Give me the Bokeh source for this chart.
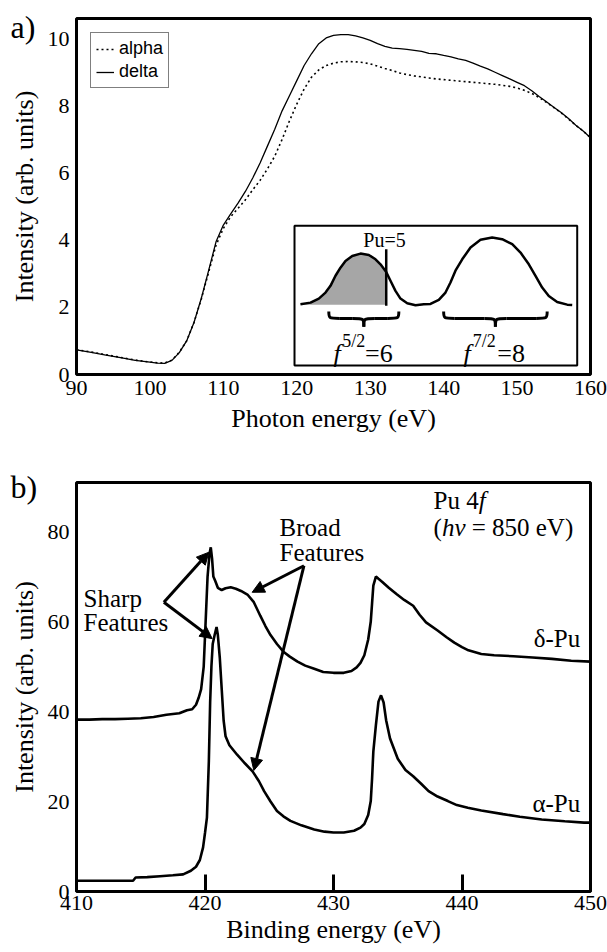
from bokeh.plotting import figure
from bokeh.layouts import column
from bokeh.models import Range1d, Legend, LegendItem, Label, Arrow, NormalHead, FixedTicker, Title
from bokeh.embed import file_html
from bokeh.resources import INLINE

SERIF = "Liberation Serif"
SANS = "Liberation Sans"

# ---------------- panel a) data ----------------
photon_energy = [90, 92, 94, 96, 98, 100, 101, 102, 103, 104, 105, 106, 107, 108, 109, 110,
                 111, 112, 113, 114, 115, 116, 117, 118, 119, 120, 121, 122, 123, 124, 125,
                 126, 127, 128, 129, 130, 131, 132, 133, 134, 135, 136, 137, 138, 139, 140,
                 141, 142, 143, 144, 145, 146, 147, 148, 149, 150, 151, 152, 153, 154, 155,
                 156, 157, 158, 159, 160]
delta_xas = [0.73, 0.66, 0.58, 0.50, 0.42, 0.37, 0.34, 0.33, 0.42, 0.65, 1.00, 1.55, 2.27, 3.10,
             3.95, 4.45, 4.78, 5.10, 5.45, 5.85, 6.30, 6.80, 7.30, 7.85, 8.30, 8.75, 9.20, 9.55,
             9.85, 10.02, 10.10, 10.12, 10.12, 10.08, 10.02, 9.95, 9.85, 9.77, 9.72, 9.70, 9.68,
             9.65, 9.62, 9.56, 9.55, 9.50, 9.46, 9.40, 9.35, 9.27, 9.18, 9.10, 9.00, 8.90, 8.80,
             8.70, 8.60, 8.45, 8.28, 8.12, 7.96, 7.80, 7.62, 7.42, 7.25, 7.05]
alpha_xas = [0.74, 0.67, 0.59, 0.51, 0.43, 0.37, 0.35, 0.34, 0.43, 0.66, 1.00, 1.55, 2.25, 3.05,
             3.85, 4.35, 4.70, 4.95, 5.20, 5.50, 5.78, 6.12, 6.50, 7.00, 7.55, 8.05, 8.50, 8.85,
             9.07, 9.20, 9.27, 9.31, 9.32, 9.31, 9.29, 9.25, 9.18, 9.11, 9.05, 8.98, 8.93, 8.89,
             8.86, 8.83, 8.80, 8.78, 8.76, 8.74, 8.72, 8.70, 8.68, 8.66, 8.64, 8.61, 8.58, 8.53,
             8.46, 8.37, 8.25, 8.10, 7.95, 7.79, 7.61, 7.42, 7.25, 7.05]
series_a_labels = ["alpha", "delta"]
xticks_a = [90, 100, 110, 120, 130, 140, 150, 160]
yticks_a = [0, 2, 4, 6, 8, 10]

# inset schematic (5f density of states, drawn in panel-a data units)
inset_x = [120.50, 121.87, 123.00, 123.91, 124.59, 125.27, 125.95, 126.63, 127.55, 128.68,
           129.81, 130.72, 131.40, 132.18, 132.76, 133.44, 134.12, 135.04, 136.17, 137.30,
           138.21, 139.34, 140.25, 140.93, 141.61, 142.53, 143.66, 145.02, 146.61, 147.97,
           149.34, 150.47, 151.60, 152.51, 153.42, 154.32, 155.46, 156.83, 157.51]
inset_y = [2.09, 2.14, 2.26, 2.44, 2.64, 2.94, 3.18, 3.38, 3.53, 3.60, 3.56, 3.43, 3.28, 3.05,
           2.79, 2.49, 2.26, 2.12, 2.06, 2.09, 2.10, 2.22, 2.44, 2.74, 3.09, 3.43, 3.78, 4.01,
           4.08, 4.03, 3.88, 3.63, 3.28, 2.94, 2.59, 2.34, 2.16, 2.08, 2.07]
inset_baseline = 2.08
fermi_level_x = 132.18   # "Pu=5" filling line
fermi_level_top = 3.73
brace_left = [124.36, 140.0]
brace_right = [133.9, 154.1]
brace_texts_main = ["=6", "=8"]
brace_texts_sup = ["5/2", "7/2"]

# ---------------- panel b) data ----------------
delta_be = [410.0, 411.0, 412.0, 413.0, 414.0, 415.0, 416.0, 417.0, 418.0, 418.6, 419.0, 419.3,
            419.5, 419.7, 419.9, 420.05, 420.2, 420.35, 420.45, 420.55, 420.65, 420.8, 421.0,
            421.3, 421.6, 422.0, 422.4, 422.8, 423.3, 423.8, 424.3, 424.7, 425.1, 425.6, 426.1,
            426.6, 427.2, 427.8, 428.5, 429.2, 430.0, 430.8, 431.4, 431.8, 432.1, 432.4, 432.7,
            432.9, 433.0, 433.1, 433.3, 433.5, 433.8, 434.3, 434.9, 435.5, 436.2, 436.7, 437.2,
            438.1, 438.8, 439.4, 440.0, 440.5, 441.5, 442.5, 444.0, 445.5, 447.0, 448.5, 450.0]
delta_int = [38.2, 38.2, 38.3, 38.3, 38.4, 38.5, 38.8, 39.3, 39.6, 40.3, 40.5, 41.5, 43.0, 45.0,
             50.0, 60.0, 70.0, 75.0, 76.5, 74.0, 70.0, 69.0, 67.5, 67.0, 67.4, 67.6, 67.3, 66.8,
             66.0, 64.3, 61.3, 59.0, 57.0, 55.0, 53.3, 52.2, 51.1, 50.2, 49.5, 48.8, 48.6, 48.6,
             49.0, 49.8, 50.8, 52.5, 56.0, 60.0, 64.0, 68.0, 70.0, 69.5, 68.8, 67.5, 66.1, 64.8,
             63.5, 61.5, 59.8, 58.0, 56.5, 55.3, 54.3, 53.6, 52.8, 52.5, 52.3, 52.0, 51.7, 51.3,
             51.1]
alpha_be = [410.0, 411.0, 412.0, 413.0, 414.4, 414.6, 415.5, 416.5, 417.5, 418.3, 418.9, 419.3,
            419.6, 419.85, 420.0, 420.15, 420.3, 420.4, 420.5, 420.6, 420.75, 420.9, 421.0,
            421.15, 421.3, 421.45, 421.6, 421.9, 422.5, 423.1, 423.7, 424.2, 424.6, 425.1,
            425.6, 426.1, 426.65, 427.5, 428.5, 429.3, 430.0, 430.8, 431.6, 432.1, 432.4, 432.7,
            432.9, 433.0, 433.1, 433.3, 433.5, 433.7, 433.9, 434.1, 434.4, 435.0, 435.6, 436.2,
            436.8, 437.4, 438.1, 438.9, 439.6, 440.45, 441.5, 443.2, 444.5, 446.2, 448.0,
            449.5, 450.0]
alpha_int = [2.4, 2.4, 2.4, 2.4, 2.4, 3.1, 3.2, 3.4, 3.6, 3.8, 4.6, 5.5, 7.0, 9.8, 13.0, 16.4,
             29.0, 42.0, 50.0, 55.0, 57.0, 58.8, 57.0, 52.0, 45.0, 38.0, 34.5, 32.5, 30.4, 28.5,
             26.7, 24.5, 22.3, 20.0, 17.9, 16.7, 15.7, 14.7, 13.8, 13.3, 13.1, 13.1, 13.5, 14.2,
             15.0, 17.0, 20.1, 25.0, 31.1, 37.0, 42.2, 43.6, 42.0, 38.0, 34.0, 29.5, 27.0, 25.6,
             24.0, 22.3, 21.1, 20.1, 19.2, 18.6, 18.0, 17.2, 16.6, 16.0, 15.6, 15.3, 15.3]
xticks_b = [410, 420, 430, 440, 450]
yticks_b = [0, 20, 40, 60, 80]

# annotation arrows (start -> end, data units of panel b)
arrow_x0 = [416.8, 416.8, 427.7, 427.7]
arrow_y0 = [64.3, 64.3, 72.4, 72.4]
arrow_x1 = [420.3, 420.56, 423.67, 423.8]
arrow_y1 = [75.4, 56.2, 66.5, 26.9]


def style_axes(p, xlabel, ylabel, xticks, yticks):
    p.xgrid.visible = False
    p.ygrid.visible = False
    p.outline_line_color = "black"
    p.outline_line_width = 3
    p.outline_line_alpha = 1
    p.xaxis.axis_label = xlabel
    p.yaxis.axis_label = ylabel
    p.xaxis.ticker = FixedTicker(ticks=xticks)
    p.yaxis.ticker = FixedTicker(ticks=yticks)
    for ax in (p.xaxis[0], p.yaxis[0]):
        ax.axis_line_color = None
        ax.minor_tick_line_color = None
        ax.major_tick_line_color = None
        ax.major_tick_in = 0
        ax.major_tick_out = 0
        ax.major_label_text_font = SERIF
        ax.major_label_text_font_size = "22px"
        ax.major_label_text_color = "black"
        ax.axis_label_text_font = SERIF
        ax.axis_label_text_font_size = "26px"
        ax.axis_label_text_font_style = "normal"
        ax.axis_label_text_color = "black"
    p.xaxis.major_label_standoff = 6
    p.yaxis.major_label_standoff = 7
    p.xaxis.axis_label_standoff = 6
    p.yaxis.axis_label_standoff = 6


def panel_letter(p, text, standoff):
    # a title whose negative standoff lets it hang beside the frame's top-left corner
    p.add_layout(Title(text=text, align="left", offset=-66, standoff=standoff,
                       vertical_align="bottom", text_font=SERIF, text_font_size="32px",
                       text_font_style="normal", text_color="black"), "above")


# ================= panel a =================
pa = figure(width=607, height=448, x_range=Range1d(90, 160), y_range=Range1d(0, 10.6),
            output_backend="svg", toolbar_location=None,
            min_border_left=76, min_border_right=17, min_border_top=18, min_border_bottom=74)
style_axes(pa, "Photon energy (eV)", "Intensity (arb. units)", xticks_a, yticks_a)

r_alpha = pa.line(photon_energy, alpha_xas, line_color="black", line_width=1.6, line_dash="2 3")
r_delta = pa.line(photon_energy, delta_xas, line_color="black", line_width=1.3)

leg = Legend(items=[LegendItem(label=series_a_labels[0], renderers=[r_alpha]),
                    LegendItem(label=series_a_labels[1], renderers=[r_delta])],
             location="top_left", margin=14, padding=5, spacing=2,
             glyph_width=18, glyph_height=18, label_height=18, label_standoff=5,
             label_text_font=SANS, label_text_font_size="18px", label_text_color="black",
             border_line_color="black", border_line_width=1, background_fill_alpha=1)
pa.add_layout(leg)

# inset box
pa.quad(left=[119.69], right=[158.19], bottom=[0.27], top=[4.43],
        fill_color="white", line_color="black", line_width=2)
# shaded occupied part
n_occ = inset_x.index(fermi_level_x) + 1
pa.varea(x=inset_x[:n_occ], y1=[inset_baseline] * n_occ, y2=inset_y[:n_occ], fill_color="#a6a6a6")
pa.line(inset_x, inset_y, line_color="black", line_width=2.5, line_join="round")
pa.segment(x0=[fermi_level_x], y0=[inset_baseline - 0.03], x1=[fermi_level_x], y1=[fermi_level_top],
           line_color="black", line_width=2.5)

# braces
ytop, ymid, ybot, w = 1.875, 1.67, 1.42, 1.5
for x0, x1 in zip(brace_left, brace_right):
    xc = (x0 + x1) / 2
    pa.bezier(x0=[x0, xc - w, x1, xc + w], y0=[ytop, ymid, ytop, ymid],
              x1=[x0 + w, xc, x1 - w, xc], y1=[ymid, ybot, ymid, ybot],
              cx0=[x0, xc, x1, xc], cy0=[ymid, ymid, ymid, ymid],
              cx1=[x0, xc, x1, xc], cy1=[ymid, ymid, ymid, ymid],
              line_color="black", line_width=3)
    pa.segment(x0=[x0 + w, xc + w], y0=[ymid, ymid], x1=[xc - w, x1 - w], y1=[ymid, ymid],
               line_color="black", line_width=3)

pa.add_layout(Label(x=131.95, y=4.01, text="Pu=5", text_font=SERIF, text_font_size="20px",
                    text_align="center", text_baseline="middle", text_color="black"))
f_left = [125.0, 142.7]
sup_left = [126.2, 143.95]
main_left = [129.3, 147.3]
for i in range(2):
    pa.add_layout(Label(x=f_left[i], y=0.62, text="f", text_font=SERIF, text_font_style="italic",
                        text_font_size="26px", text_baseline="alphabetic", text_color="black"))
    pa.add_layout(Label(x=sup_left[i], y=1.0, text=brace_texts_sup[i], text_font=SERIF,
                        text_font_size="18px", text_baseline="alphabetic", text_color="black"))
    pa.add_layout(Label(x=main_left[i], y=0.62, text=brace_texts_main[i], text_font=SERIF,
                        text_font_size="26px", text_baseline="alphabetic", text_color="black"))

panel_letter(pa, "a)", -53)

# ================= panel b =================
pb = figure(width=607, height=504, x_range=Range1d(410, 450), y_range=Range1d(0, 90.9),
            output_backend="svg", toolbar_location=None,
            min_border_left=76, min_border_right=17, min_border_top=34, min_border_bottom=61)
style_axes(pb, "Binding energy (eV)", "Intensity (arb. units)", xticks_b, yticks_b)
pb.xaxis.major_tick_line_color = "black"
pb.xaxis.major_tick_line_width = 3
pb.xaxis.major_tick_in = 17
pb.xaxis.major_tick_out = 0
pb.xaxis.major_label_standoff = 4
pb.xaxis.axis_label_standoff = 2

pb.line(delta_be, delta_int, line_color="black", line_width=2.6)
pb.line(alpha_be, alpha_int, line_color="black", line_width=2.6)

for xs, ys, xe, ye in zip(arrow_x0, arrow_y0, arrow_x1, arrow_y1):
    pb.add_layout(Arrow(x_start=xs, y_start=ys, x_end=xe, y_end=ye, line_width=3,
                        line_color="black",
                        end=NormalHead(size=12, fill_color="black", line_color="black",
                                       line_width=1)))


def blabel(x, y, text, align="left", style="normal", size="25px"):
    pb.add_layout(Label(x=x, y=y, text=text, text_font=SERIF, text_font_size=size,
                        text_font_style=style, text_align=align, text_baseline="middle",
                        text_color="black"))


blabel(410.55, 65.1, "Sharp")
blabel(410.55, 59.8, "Features")
blabel(425.8, 81.0, "Broad")
blabel(425.8, 75.4, "Features")
blabel(437.78, 86.9, "Pu 4")
blabel(441.3, 86.9, "f", style="italic")
blabel(437.78, 81.0, "(")
blabel(438.45, 81.0, "hv", style="italic")
blabel(440.75, 81.0, "= 850 eV)")
blabel(449.2, 56.2, "δ-Pu", align="right")
blabel(449.2, 19.5, "α-Pu", align="right")
panel_letter(pb, "b)", -45)

layout = column(pa, pb)
open("out.html", "w").write(file_html(layout, INLINE))
